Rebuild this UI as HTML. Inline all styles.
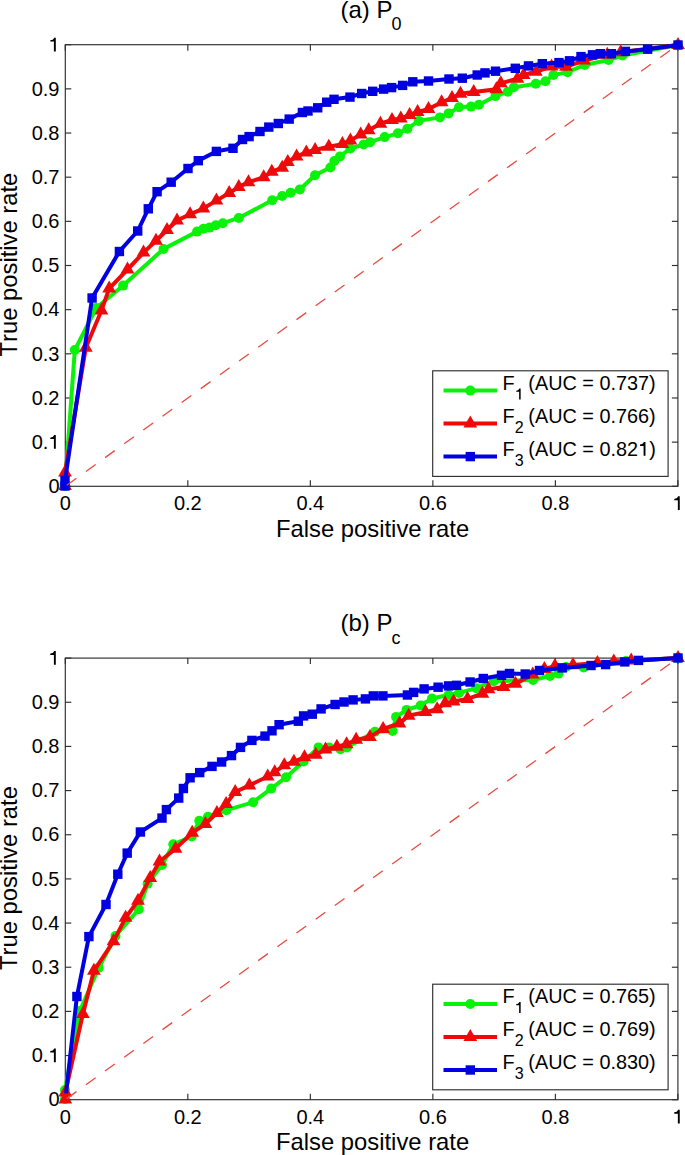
<!DOCTYPE html>
<html><head><meta charset="utf-8"><style>
html,body{margin:0;padding:0;background:#fff;}
body{width:685px;height:1155px;overflow:hidden;}
svg{display:block;font-family:"Liberation Sans",sans-serif;}
text{white-space:pre;font-kerning:none;}
.tk{font-size:20px;fill:#000;}
.lb{font-size:23.8px;fill:#000;}
.tt{font-size:24px;fill:#000;}
.sub{font-size:18px;}
.lg{font-size:19.85px;fill:#000;}
.lsub{font-size:16px;fill:#000;}
</style></head><body>
<svg width="685" height="1155" viewBox="0 0 685 1155">
<rect width="685" height="1155" fill="#fff"/>
<rect x="65.3" y="44.7" width="612.6" height="441.6" fill="none" stroke="#2e2e2e" stroke-width="1.15"/>
<line x1="65.3" y1="486.30" x2="71.3" y2="486.30" stroke="#2e2e2e" stroke-width="1.15"/>
<line x1="677.9" y1="486.30" x2="671.9" y2="486.30" stroke="#2e2e2e" stroke-width="1.15"/>
<text x="48.38" y="493.00" class="tk">0</text>
<line x1="65.3" y1="442.14" x2="71.3" y2="442.14" stroke="#2e2e2e" stroke-width="1.15"/>
<line x1="677.9" y1="442.14" x2="671.9" y2="442.14" stroke="#2e2e2e" stroke-width="1.15"/>
<text x="31.70" y="448.84" class="tk">0.</text><path transform="translate(48.38,448.84) scale(20,-20)" d="M0.371,0L0.276,0L0.276,0.49L0.095,0.49L0.095,0.56C0.19,0.563 0.262,0.605 0.29,0.688L0.371,0.688Z"/>
<line x1="65.3" y1="397.98" x2="71.3" y2="397.98" stroke="#2e2e2e" stroke-width="1.15"/>
<line x1="677.9" y1="397.98" x2="671.9" y2="397.98" stroke="#2e2e2e" stroke-width="1.15"/>
<text x="31.70" y="404.68" class="tk">0.2</text>
<line x1="65.3" y1="353.82" x2="71.3" y2="353.82" stroke="#2e2e2e" stroke-width="1.15"/>
<line x1="677.9" y1="353.82" x2="671.9" y2="353.82" stroke="#2e2e2e" stroke-width="1.15"/>
<text x="31.70" y="360.52" class="tk">0.3</text>
<line x1="65.3" y1="309.66" x2="71.3" y2="309.66" stroke="#2e2e2e" stroke-width="1.15"/>
<line x1="677.9" y1="309.66" x2="671.9" y2="309.66" stroke="#2e2e2e" stroke-width="1.15"/>
<text x="31.70" y="316.36" class="tk">0.4</text>
<line x1="65.3" y1="265.50" x2="71.3" y2="265.50" stroke="#2e2e2e" stroke-width="1.15"/>
<line x1="677.9" y1="265.50" x2="671.9" y2="265.50" stroke="#2e2e2e" stroke-width="1.15"/>
<text x="31.70" y="272.20" class="tk">0.5</text>
<line x1="65.3" y1="221.34" x2="71.3" y2="221.34" stroke="#2e2e2e" stroke-width="1.15"/>
<line x1="677.9" y1="221.34" x2="671.9" y2="221.34" stroke="#2e2e2e" stroke-width="1.15"/>
<text x="31.70" y="228.04" class="tk">0.6</text>
<line x1="65.3" y1="177.18" x2="71.3" y2="177.18" stroke="#2e2e2e" stroke-width="1.15"/>
<line x1="677.9" y1="177.18" x2="671.9" y2="177.18" stroke="#2e2e2e" stroke-width="1.15"/>
<text x="31.70" y="183.88" class="tk">0.7</text>
<line x1="65.3" y1="133.02" x2="71.3" y2="133.02" stroke="#2e2e2e" stroke-width="1.15"/>
<line x1="677.9" y1="133.02" x2="671.9" y2="133.02" stroke="#2e2e2e" stroke-width="1.15"/>
<text x="31.70" y="139.72" class="tk">0.8</text>
<line x1="65.3" y1="88.86" x2="71.3" y2="88.86" stroke="#2e2e2e" stroke-width="1.15"/>
<line x1="677.9" y1="88.86" x2="671.9" y2="88.86" stroke="#2e2e2e" stroke-width="1.15"/>
<text x="31.70" y="95.56" class="tk">0.9</text>
<line x1="65.3" y1="44.70" x2="71.3" y2="44.70" stroke="#2e2e2e" stroke-width="1.15"/>
<line x1="677.9" y1="44.70" x2="671.9" y2="44.70" stroke="#2e2e2e" stroke-width="1.15"/>
<path transform="translate(48.38,51.40) scale(20,-20)" d="M0.371,0L0.276,0L0.276,0.49L0.095,0.49L0.095,0.56C0.19,0.563 0.262,0.605 0.29,0.688L0.371,0.688Z"/>
<line x1="65.30" y1="486.3" x2="65.30" y2="480.3" stroke="#2e2e2e" stroke-width="1.15"/>
<line x1="65.30" y1="44.7" x2="65.30" y2="50.7" stroke="#2e2e2e" stroke-width="1.15"/>
<text x="59.74" y="510.10" class="tk">0</text>
<line x1="187.82" y1="486.3" x2="187.82" y2="480.3" stroke="#2e2e2e" stroke-width="1.15"/>
<line x1="187.82" y1="44.7" x2="187.82" y2="50.7" stroke="#2e2e2e" stroke-width="1.15"/>
<text x="173.92" y="510.10" class="tk">0.2</text>
<line x1="310.34" y1="486.3" x2="310.34" y2="480.3" stroke="#2e2e2e" stroke-width="1.15"/>
<line x1="310.34" y1="44.7" x2="310.34" y2="50.7" stroke="#2e2e2e" stroke-width="1.15"/>
<text x="296.44" y="510.10" class="tk">0.4</text>
<line x1="432.86" y1="486.3" x2="432.86" y2="480.3" stroke="#2e2e2e" stroke-width="1.15"/>
<line x1="432.86" y1="44.7" x2="432.86" y2="50.7" stroke="#2e2e2e" stroke-width="1.15"/>
<text x="418.96" y="510.10" class="tk">0.6</text>
<line x1="555.38" y1="486.3" x2="555.38" y2="480.3" stroke="#2e2e2e" stroke-width="1.15"/>
<line x1="555.38" y1="44.7" x2="555.38" y2="50.7" stroke="#2e2e2e" stroke-width="1.15"/>
<text x="541.48" y="510.10" class="tk">0.8</text>
<line x1="677.90" y1="486.3" x2="677.90" y2="480.3" stroke="#2e2e2e" stroke-width="1.15"/>
<line x1="677.90" y1="44.7" x2="677.90" y2="50.7" stroke="#2e2e2e" stroke-width="1.15"/>
<path transform="translate(672.34,510.10) scale(20,-20)" d="M0.371,0L0.276,0L0.276,0.49L0.095,0.49L0.095,0.56C0.19,0.563 0.262,0.605 0.29,0.688L0.371,0.688Z"/>
<polyline points="65.0,486.0 74.8,350.0 96.2,308.0 123.1,285.6 163.5,249.0 197.1,231.6 203.5,228.7 209.6,227.6 215.8,225.2 222.8,223.2 238.8,218.0 272.2,200.3 282.2,196.0 290.6,192.8 299.9,189.4 315.0,175.2 330.4,167.5 334.4,161.0 340.0,156.4 350.4,148.5 363.6,144.5 370.1,142.2 384.7,137.1 397.9,133.3 407.4,128.8 418.7,120.9 439.9,117.4 448.6,113.4 459.0,107.3 471.0,106.6 478.9,104.8 495.5,96.1 507.8,91.7 513.9,87.3 535.8,83.8 545.5,81.2 553.4,75.0 567.5,72.2 584.8,65.0 608.5,60.0 622.5,55.5 678.0,45.0" fill="none" stroke="#0af20a" stroke-width="4" stroke-linejoin="miter" stroke-miterlimit="2"/><circle cx="65.0" cy="486.0" r="5" fill="#0af20a"/><circle cx="74.8" cy="350.0" r="5" fill="#0af20a"/><circle cx="96.2" cy="308.0" r="5" fill="#0af20a"/><circle cx="123.1" cy="285.6" r="5" fill="#0af20a"/><circle cx="163.5" cy="249.0" r="5" fill="#0af20a"/><circle cx="197.1" cy="231.6" r="5" fill="#0af20a"/><circle cx="203.5" cy="228.7" r="5" fill="#0af20a"/><circle cx="209.6" cy="227.6" r="5" fill="#0af20a"/><circle cx="215.8" cy="225.2" r="5" fill="#0af20a"/><circle cx="222.8" cy="223.2" r="5" fill="#0af20a"/><circle cx="238.8" cy="218.0" r="5" fill="#0af20a"/><circle cx="272.2" cy="200.3" r="5" fill="#0af20a"/><circle cx="282.2" cy="196.0" r="5" fill="#0af20a"/><circle cx="290.6" cy="192.8" r="5" fill="#0af20a"/><circle cx="299.9" cy="189.4" r="5" fill="#0af20a"/><circle cx="315.0" cy="175.2" r="5" fill="#0af20a"/><circle cx="330.4" cy="167.5" r="5" fill="#0af20a"/><circle cx="334.4" cy="161.0" r="5" fill="#0af20a"/><circle cx="340.0" cy="156.4" r="5" fill="#0af20a"/><circle cx="350.4" cy="148.5" r="5" fill="#0af20a"/><circle cx="363.6" cy="144.5" r="5" fill="#0af20a"/><circle cx="370.1" cy="142.2" r="5" fill="#0af20a"/><circle cx="384.7" cy="137.1" r="5" fill="#0af20a"/><circle cx="397.9" cy="133.3" r="5" fill="#0af20a"/><circle cx="407.4" cy="128.8" r="5" fill="#0af20a"/><circle cx="418.7" cy="120.9" r="5" fill="#0af20a"/><circle cx="439.9" cy="117.4" r="5" fill="#0af20a"/><circle cx="448.6" cy="113.4" r="5" fill="#0af20a"/><circle cx="459.0" cy="107.3" r="5" fill="#0af20a"/><circle cx="471.0" cy="106.6" r="5" fill="#0af20a"/><circle cx="478.9" cy="104.8" r="5" fill="#0af20a"/><circle cx="495.5" cy="96.1" r="5" fill="#0af20a"/><circle cx="507.8" cy="91.7" r="5" fill="#0af20a"/><circle cx="513.9" cy="87.3" r="5" fill="#0af20a"/><circle cx="535.8" cy="83.8" r="5" fill="#0af20a"/><circle cx="545.5" cy="81.2" r="5" fill="#0af20a"/><circle cx="553.4" cy="75.0" r="5" fill="#0af20a"/><circle cx="567.5" cy="72.2" r="5" fill="#0af20a"/><circle cx="584.8" cy="65.0" r="5" fill="#0af20a"/><circle cx="608.5" cy="60.0" r="5" fill="#0af20a"/><circle cx="622.5" cy="55.5" r="5" fill="#0af20a"/><circle cx="678.0" cy="45.0" r="5" fill="#0af20a"/>
<polyline points="65.0,486.0 65.0,472.5 85.8,347.8 101.5,310.4 109.2,288.5 127.5,269.5 143.5,252.6 156.0,240.7 167.0,230.0 177.0,220.5 190.1,214.3 203.3,208.5 216.4,200.6 229.2,193.1 238.8,187.0 248.5,182.2 263.7,177.3 271.8,171.7 282.2,167.7 287.8,162.1 296.6,156.5 306.3,152.5 315.1,150.0 328.8,146.8 342.4,144.1 350.4,140.4 360.7,134.6 368.7,130.2 380.4,123.7 392.0,120.0 400.8,118.5 409.6,114.9 417.6,112.0 428.5,109.1 441.6,102.3 452.0,98.0 460.5,93.7 473.7,91.9 496.4,89.3 500.8,83.2 517.4,78.8 523.6,74.9 535.8,71.8 551.6,66.6 566.0,66.8 584.0,60.5 607.3,54.7 620.7,52.3 678.0,45.0" fill="none" stroke="#ee0a0a" stroke-width="4" stroke-linejoin="miter" stroke-miterlimit="2"/><path d="M65.0,478.0L71.9,490.0L58.1,490.0Z" fill="#ee0a0a"/><path d="M65.0,464.5L71.9,476.5L58.1,476.5Z" fill="#ee0a0a"/><path d="M85.8,339.8L92.7,351.8L78.9,351.8Z" fill="#ee0a0a"/><path d="M101.5,302.4L108.4,314.4L94.6,314.4Z" fill="#ee0a0a"/><path d="M109.2,280.5L116.1,292.5L102.3,292.5Z" fill="#ee0a0a"/><path d="M127.5,261.5L134.4,273.5L120.6,273.5Z" fill="#ee0a0a"/><path d="M143.5,244.6L150.4,256.6L136.6,256.6Z" fill="#ee0a0a"/><path d="M156.0,232.7L162.9,244.7L149.1,244.7Z" fill="#ee0a0a"/><path d="M167.0,222.0L173.9,234.0L160.1,234.0Z" fill="#ee0a0a"/><path d="M177.0,212.5L183.9,224.5L170.1,224.5Z" fill="#ee0a0a"/><path d="M190.1,206.3L197.0,218.3L183.2,218.3Z" fill="#ee0a0a"/><path d="M203.3,200.5L210.2,212.5L196.4,212.5Z" fill="#ee0a0a"/><path d="M216.4,192.6L223.3,204.6L209.5,204.6Z" fill="#ee0a0a"/><path d="M229.2,185.1L236.1,197.1L222.3,197.1Z" fill="#ee0a0a"/><path d="M238.8,179.0L245.7,191.0L231.9,191.0Z" fill="#ee0a0a"/><path d="M248.5,174.2L255.4,186.2L241.6,186.2Z" fill="#ee0a0a"/><path d="M263.7,169.3L270.6,181.3L256.8,181.3Z" fill="#ee0a0a"/><path d="M271.8,163.7L278.7,175.7L264.9,175.7Z" fill="#ee0a0a"/><path d="M282.2,159.7L289.1,171.7L275.3,171.7Z" fill="#ee0a0a"/><path d="M287.8,154.1L294.7,166.1L280.9,166.1Z" fill="#ee0a0a"/><path d="M296.6,148.5L303.5,160.5L289.7,160.5Z" fill="#ee0a0a"/><path d="M306.3,144.5L313.2,156.5L299.4,156.5Z" fill="#ee0a0a"/><path d="M315.1,142.0L322.0,154.0L308.2,154.0Z" fill="#ee0a0a"/><path d="M328.8,138.8L335.7,150.8L321.9,150.8Z" fill="#ee0a0a"/><path d="M342.4,136.1L349.3,148.1L335.5,148.1Z" fill="#ee0a0a"/><path d="M350.4,132.4L357.3,144.4L343.5,144.4Z" fill="#ee0a0a"/><path d="M360.7,126.6L367.6,138.6L353.8,138.6Z" fill="#ee0a0a"/><path d="M368.7,122.2L375.6,134.2L361.8,134.2Z" fill="#ee0a0a"/><path d="M380.4,115.7L387.3,127.7L373.5,127.7Z" fill="#ee0a0a"/><path d="M392.0,112.0L398.9,124.0L385.1,124.0Z" fill="#ee0a0a"/><path d="M400.8,110.5L407.7,122.5L393.9,122.5Z" fill="#ee0a0a"/><path d="M409.6,106.9L416.5,118.9L402.7,118.9Z" fill="#ee0a0a"/><path d="M417.6,104.0L424.5,116.0L410.7,116.0Z" fill="#ee0a0a"/><path d="M428.5,101.1L435.4,113.1L421.6,113.1Z" fill="#ee0a0a"/><path d="M441.6,94.3L448.5,106.3L434.7,106.3Z" fill="#ee0a0a"/><path d="M452.0,90.0L458.9,102.0L445.1,102.0Z" fill="#ee0a0a"/><path d="M460.5,85.7L467.4,97.7L453.6,97.7Z" fill="#ee0a0a"/><path d="M473.7,83.9L480.6,95.9L466.8,95.9Z" fill="#ee0a0a"/><path d="M496.4,81.3L503.3,93.3L489.5,93.3Z" fill="#ee0a0a"/><path d="M500.8,75.2L507.7,87.2L493.9,87.2Z" fill="#ee0a0a"/><path d="M517.4,70.8L524.3,82.8L510.5,82.8Z" fill="#ee0a0a"/><path d="M523.6,66.9L530.5,78.9L516.7,78.9Z" fill="#ee0a0a"/><path d="M535.8,63.8L542.7,75.8L528.9,75.8Z" fill="#ee0a0a"/><path d="M551.6,58.6L558.5,70.6L544.7,70.6Z" fill="#ee0a0a"/><path d="M566.0,58.8L572.9,70.8L559.1,70.8Z" fill="#ee0a0a"/><path d="M584.0,52.5L590.9,64.5L577.1,64.5Z" fill="#ee0a0a"/><path d="M607.3,46.7L614.2,58.7L600.4,58.7Z" fill="#ee0a0a"/><path d="M620.7,44.3L627.6,56.3L613.8,56.3Z" fill="#ee0a0a"/><path d="M678.0,37.0L684.9,49.0L671.1,49.0Z" fill="#ee0a0a"/>
<polyline points="65.0,486.0 65.0,480.5 92.1,298.0 119.4,251.5 137.7,231.0 148.3,208.8 157.1,191.7 171.2,182.2 188.0,168.5 198.3,160.7 216.4,151.4 233.0,148.3 242.5,139.5 249.1,136.6 260.0,131.5 268.8,127.1 278.3,123.5 289.2,119.1 302.4,112.5 308.0,111.0 317.7,107.8 326.7,102.2 334.0,99.3 350.0,97.1 361.7,93.5 372.7,91.3 383.6,89.1 391.6,87.6 402.6,85.4 412.8,81.8 428.5,81.0 449.0,79.0 462.3,78.2 477.2,75.0 485.0,72.9 495.5,71.2 515.3,68.3 528.5,65.9 542.3,63.7 559.0,62.6 569.5,60.8 581.0,56.6 592.5,54.8 600.3,53.7 611.4,53.7 625.4,51.4 647.6,49.2 678.0,45.0" fill="none" stroke="#0000e0" stroke-width="4" stroke-linejoin="miter" stroke-miterlimit="2"/><rect x="60.3" y="481.3" width="9.4" height="9.4" fill="#0000e0"/><rect x="60.3" y="475.8" width="9.4" height="9.4" fill="#0000e0"/><rect x="87.4" y="293.3" width="9.4" height="9.4" fill="#0000e0"/><rect x="114.7" y="246.8" width="9.4" height="9.4" fill="#0000e0"/><rect x="133.0" y="226.3" width="9.4" height="9.4" fill="#0000e0"/><rect x="143.6" y="204.1" width="9.4" height="9.4" fill="#0000e0"/><rect x="152.4" y="187.0" width="9.4" height="9.4" fill="#0000e0"/><rect x="166.5" y="177.5" width="9.4" height="9.4" fill="#0000e0"/><rect x="183.3" y="163.8" width="9.4" height="9.4" fill="#0000e0"/><rect x="193.6" y="156.0" width="9.4" height="9.4" fill="#0000e0"/><rect x="211.7" y="146.7" width="9.4" height="9.4" fill="#0000e0"/><rect x="228.3" y="143.6" width="9.4" height="9.4" fill="#0000e0"/><rect x="237.8" y="134.8" width="9.4" height="9.4" fill="#0000e0"/><rect x="244.4" y="131.9" width="9.4" height="9.4" fill="#0000e0"/><rect x="255.3" y="126.8" width="9.4" height="9.4" fill="#0000e0"/><rect x="264.1" y="122.4" width="9.4" height="9.4" fill="#0000e0"/><rect x="273.6" y="118.8" width="9.4" height="9.4" fill="#0000e0"/><rect x="284.5" y="114.4" width="9.4" height="9.4" fill="#0000e0"/><rect x="297.7" y="107.8" width="9.4" height="9.4" fill="#0000e0"/><rect x="303.3" y="106.3" width="9.4" height="9.4" fill="#0000e0"/><rect x="313.0" y="103.1" width="9.4" height="9.4" fill="#0000e0"/><rect x="322.0" y="97.5" width="9.4" height="9.4" fill="#0000e0"/><rect x="329.3" y="94.6" width="9.4" height="9.4" fill="#0000e0"/><rect x="345.3" y="92.4" width="9.4" height="9.4" fill="#0000e0"/><rect x="357.0" y="88.8" width="9.4" height="9.4" fill="#0000e0"/><rect x="368.0" y="86.6" width="9.4" height="9.4" fill="#0000e0"/><rect x="378.9" y="84.4" width="9.4" height="9.4" fill="#0000e0"/><rect x="386.9" y="82.9" width="9.4" height="9.4" fill="#0000e0"/><rect x="397.9" y="80.7" width="9.4" height="9.4" fill="#0000e0"/><rect x="408.1" y="77.1" width="9.4" height="9.4" fill="#0000e0"/><rect x="423.8" y="76.3" width="9.4" height="9.4" fill="#0000e0"/><rect x="444.3" y="74.3" width="9.4" height="9.4" fill="#0000e0"/><rect x="457.6" y="73.5" width="9.4" height="9.4" fill="#0000e0"/><rect x="472.5" y="70.3" width="9.4" height="9.4" fill="#0000e0"/><rect x="480.3" y="68.2" width="9.4" height="9.4" fill="#0000e0"/><rect x="490.8" y="66.5" width="9.4" height="9.4" fill="#0000e0"/><rect x="510.6" y="63.6" width="9.4" height="9.4" fill="#0000e0"/><rect x="523.8" y="61.2" width="9.4" height="9.4" fill="#0000e0"/><rect x="537.6" y="59.0" width="9.4" height="9.4" fill="#0000e0"/><rect x="554.3" y="57.9" width="9.4" height="9.4" fill="#0000e0"/><rect x="564.8" y="56.1" width="9.4" height="9.4" fill="#0000e0"/><rect x="576.3" y="51.9" width="9.4" height="9.4" fill="#0000e0"/><rect x="587.8" y="50.1" width="9.4" height="9.4" fill="#0000e0"/><rect x="595.6" y="49.0" width="9.4" height="9.4" fill="#0000e0"/><rect x="606.7" y="49.0" width="9.4" height="9.4" fill="#0000e0"/><rect x="620.7" y="46.7" width="9.4" height="9.4" fill="#0000e0"/><rect x="642.9" y="44.5" width="9.4" height="9.4" fill="#0000e0"/><rect x="673.3" y="40.3" width="9.4" height="9.4" fill="#0000e0"/>
<line x1="65.3" y1="486.3" x2="677.9" y2="44.7" stroke="#e84a40" stroke-width="1.3" stroke-dasharray="12 11.6" stroke-dashoffset="-1.8"/>
<text x="372.6" y="536.7" text-anchor="middle" class="lb">False positive rate</text>
<text transform="translate(17.3,264.6) rotate(-90)" text-anchor="middle" class="lb">True positive rate</text>
<text x="340.5" y="17.5" class="tt">(a) P<tspan class="sub" dx="-1" dy="12.4">0</tspan></text>
<rect x="432.7" y="370.8" width="235.4" height="105.6" fill="#fff" stroke="#2e2e2e" stroke-width="1.15"/>
<line x1="443.5" y1="390.6" x2="497" y2="390.6" stroke="#0af20a" stroke-width="4"/>
<circle cx="470.3" cy="390.6" r="5" fill="#0af20a"/>
<text x="502.50" y="389.70" class="lg">F</text>
<path transform="translate(514.72,399.60) scale(16,-16)" d="M0.371,0L0.276,0L0.276,0.49L0.095,0.49L0.095,0.56C0.19,0.563 0.262,0.605 0.29,0.688L0.371,0.688Z"/>
<text x="522.82" y="389.70" class="lg"> (AUC = 0.737)</text>
<line x1="443.5" y1="423.6" x2="497" y2="423.6" stroke="#ee0a0a" stroke-width="4"/>
<path d="M470.3,415.6L477.2,427.6L463.4,427.6Z" fill="#ee0a0a"/>
<text x="502.50" y="422.70" class="lg">F</text>
<text x="514.72" y="432.60" class="lsub">2</text>
<text x="522.82" y="422.70" class="lg"> (AUC = 0.766)</text>
<line x1="443.5" y1="456.6" x2="497" y2="456.6" stroke="#0000e0" stroke-width="4"/>
<rect x="465.6" y="451.9" width="9.4" height="9.4" fill="#0000e0"/>
<text x="502.50" y="455.70" class="lg">F</text>
<text x="514.72" y="465.60" class="lsub">3</text>
<text x="522.82" y="455.70" class="lg"> (AUC = 0.82</text><path transform="translate(638.11,455.70) scale(19.85,-19.85)" d="M0.371,0L0.276,0L0.276,0.49L0.095,0.49L0.095,0.56C0.19,0.563 0.262,0.605 0.29,0.688L0.371,0.688Z"/><text x="649.15" y="455.70" class="lg">)</text>
<rect x="65.3" y="658.1" width="612.6" height="441.6" fill="none" stroke="#2e2e2e" stroke-width="1.15"/>
<line x1="65.3" y1="1099.70" x2="71.3" y2="1099.70" stroke="#2e2e2e" stroke-width="1.15"/>
<line x1="677.9" y1="1099.70" x2="671.9" y2="1099.70" stroke="#2e2e2e" stroke-width="1.15"/>
<text x="48.38" y="1106.40" class="tk">0</text>
<line x1="65.3" y1="1055.54" x2="71.3" y2="1055.54" stroke="#2e2e2e" stroke-width="1.15"/>
<line x1="677.9" y1="1055.54" x2="671.9" y2="1055.54" stroke="#2e2e2e" stroke-width="1.15"/>
<text x="31.70" y="1062.24" class="tk">0.</text><path transform="translate(48.38,1062.24) scale(20,-20)" d="M0.371,0L0.276,0L0.276,0.49L0.095,0.49L0.095,0.56C0.19,0.563 0.262,0.605 0.29,0.688L0.371,0.688Z"/>
<line x1="65.3" y1="1011.38" x2="71.3" y2="1011.38" stroke="#2e2e2e" stroke-width="1.15"/>
<line x1="677.9" y1="1011.38" x2="671.9" y2="1011.38" stroke="#2e2e2e" stroke-width="1.15"/>
<text x="31.70" y="1018.08" class="tk">0.2</text>
<line x1="65.3" y1="967.22" x2="71.3" y2="967.22" stroke="#2e2e2e" stroke-width="1.15"/>
<line x1="677.9" y1="967.22" x2="671.9" y2="967.22" stroke="#2e2e2e" stroke-width="1.15"/>
<text x="31.70" y="973.92" class="tk">0.3</text>
<line x1="65.3" y1="923.06" x2="71.3" y2="923.06" stroke="#2e2e2e" stroke-width="1.15"/>
<line x1="677.9" y1="923.06" x2="671.9" y2="923.06" stroke="#2e2e2e" stroke-width="1.15"/>
<text x="31.70" y="929.76" class="tk">0.4</text>
<line x1="65.3" y1="878.90" x2="71.3" y2="878.90" stroke="#2e2e2e" stroke-width="1.15"/>
<line x1="677.9" y1="878.90" x2="671.9" y2="878.90" stroke="#2e2e2e" stroke-width="1.15"/>
<text x="31.70" y="885.60" class="tk">0.5</text>
<line x1="65.3" y1="834.74" x2="71.3" y2="834.74" stroke="#2e2e2e" stroke-width="1.15"/>
<line x1="677.9" y1="834.74" x2="671.9" y2="834.74" stroke="#2e2e2e" stroke-width="1.15"/>
<text x="31.70" y="841.44" class="tk">0.6</text>
<line x1="65.3" y1="790.58" x2="71.3" y2="790.58" stroke="#2e2e2e" stroke-width="1.15"/>
<line x1="677.9" y1="790.58" x2="671.9" y2="790.58" stroke="#2e2e2e" stroke-width="1.15"/>
<text x="31.70" y="797.28" class="tk">0.7</text>
<line x1="65.3" y1="746.42" x2="71.3" y2="746.42" stroke="#2e2e2e" stroke-width="1.15"/>
<line x1="677.9" y1="746.42" x2="671.9" y2="746.42" stroke="#2e2e2e" stroke-width="1.15"/>
<text x="31.70" y="753.12" class="tk">0.8</text>
<line x1="65.3" y1="702.26" x2="71.3" y2="702.26" stroke="#2e2e2e" stroke-width="1.15"/>
<line x1="677.9" y1="702.26" x2="671.9" y2="702.26" stroke="#2e2e2e" stroke-width="1.15"/>
<text x="31.70" y="708.96" class="tk">0.9</text>
<line x1="65.3" y1="658.10" x2="71.3" y2="658.10" stroke="#2e2e2e" stroke-width="1.15"/>
<line x1="677.9" y1="658.10" x2="671.9" y2="658.10" stroke="#2e2e2e" stroke-width="1.15"/>
<path transform="translate(48.38,664.80) scale(20,-20)" d="M0.371,0L0.276,0L0.276,0.49L0.095,0.49L0.095,0.56C0.19,0.563 0.262,0.605 0.29,0.688L0.371,0.688Z"/>
<line x1="65.30" y1="1099.7" x2="65.30" y2="1093.7" stroke="#2e2e2e" stroke-width="1.15"/>
<line x1="65.30" y1="658.1" x2="65.30" y2="664.1" stroke="#2e2e2e" stroke-width="1.15"/>
<text x="59.74" y="1123.50" class="tk">0</text>
<line x1="187.82" y1="1099.7" x2="187.82" y2="1093.7" stroke="#2e2e2e" stroke-width="1.15"/>
<line x1="187.82" y1="658.1" x2="187.82" y2="664.1" stroke="#2e2e2e" stroke-width="1.15"/>
<text x="173.92" y="1123.50" class="tk">0.2</text>
<line x1="310.34" y1="1099.7" x2="310.34" y2="1093.7" stroke="#2e2e2e" stroke-width="1.15"/>
<line x1="310.34" y1="658.1" x2="310.34" y2="664.1" stroke="#2e2e2e" stroke-width="1.15"/>
<text x="296.44" y="1123.50" class="tk">0.4</text>
<line x1="432.86" y1="1099.7" x2="432.86" y2="1093.7" stroke="#2e2e2e" stroke-width="1.15"/>
<line x1="432.86" y1="658.1" x2="432.86" y2="664.1" stroke="#2e2e2e" stroke-width="1.15"/>
<text x="418.96" y="1123.50" class="tk">0.6</text>
<line x1="555.38" y1="1099.7" x2="555.38" y2="1093.7" stroke="#2e2e2e" stroke-width="1.15"/>
<line x1="555.38" y1="658.1" x2="555.38" y2="664.1" stroke="#2e2e2e" stroke-width="1.15"/>
<text x="541.48" y="1123.50" class="tk">0.8</text>
<line x1="677.90" y1="1099.7" x2="677.90" y2="1093.7" stroke="#2e2e2e" stroke-width="1.15"/>
<line x1="677.90" y1="658.1" x2="677.90" y2="664.1" stroke="#2e2e2e" stroke-width="1.15"/>
<path transform="translate(672.34,1123.50) scale(20,-20)" d="M0.371,0L0.276,0L0.276,0.49L0.095,0.49L0.095,0.56C0.19,0.563 0.262,0.605 0.29,0.688L0.371,0.688Z"/>
<polyline points="65.0,1099.0 65.0,1090.0 79.7,1011.0 98.8,967.8 115.5,936.0 138.8,909.2 147.6,883.8 162.0,865.0 173.3,844.3 191.8,836.5 199.3,820.8 208.0,816.8 226.4,810.2 253.1,802.3 271.2,788.6 286.1,777.2 303.6,761.5 318.5,747.4 329.0,747.4 340.4,749.2 347.0,747.5 375.0,731.8 392.6,731.0 396.1,716.9 406.6,709.9 420.6,705.5 432.0,698.5 448.6,695.0 459.0,693.0 476.3,688.2 493.8,681.2 533.0,680.0 550.0,676.0 558.5,673.6 566.0,667.0 583.7,667.4 626.0,661.0 678.0,658.0" fill="none" stroke="#0af20a" stroke-width="4" stroke-linejoin="miter" stroke-miterlimit="2"/><circle cx="65.0" cy="1099.0" r="5" fill="#0af20a"/><circle cx="65.0" cy="1090.0" r="5" fill="#0af20a"/><circle cx="79.7" cy="1011.0" r="5" fill="#0af20a"/><circle cx="98.8" cy="967.8" r="5" fill="#0af20a"/><circle cx="115.5" cy="936.0" r="5" fill="#0af20a"/><circle cx="138.8" cy="909.2" r="5" fill="#0af20a"/><circle cx="147.6" cy="883.8" r="5" fill="#0af20a"/><circle cx="162.0" cy="865.0" r="5" fill="#0af20a"/><circle cx="173.3" cy="844.3" r="5" fill="#0af20a"/><circle cx="191.8" cy="836.5" r="5" fill="#0af20a"/><circle cx="199.3" cy="820.8" r="5" fill="#0af20a"/><circle cx="208.0" cy="816.8" r="5" fill="#0af20a"/><circle cx="226.4" cy="810.2" r="5" fill="#0af20a"/><circle cx="253.1" cy="802.3" r="5" fill="#0af20a"/><circle cx="271.2" cy="788.6" r="5" fill="#0af20a"/><circle cx="286.1" cy="777.2" r="5" fill="#0af20a"/><circle cx="303.6" cy="761.5" r="5" fill="#0af20a"/><circle cx="318.5" cy="747.4" r="5" fill="#0af20a"/><circle cx="329.0" cy="747.4" r="5" fill="#0af20a"/><circle cx="340.4" cy="749.2" r="5" fill="#0af20a"/><circle cx="347.0" cy="747.5" r="5" fill="#0af20a"/><circle cx="375.0" cy="731.8" r="5" fill="#0af20a"/><circle cx="392.6" cy="731.0" r="5" fill="#0af20a"/><circle cx="396.1" cy="716.9" r="5" fill="#0af20a"/><circle cx="406.6" cy="709.9" r="5" fill="#0af20a"/><circle cx="420.6" cy="705.5" r="5" fill="#0af20a"/><circle cx="432.0" cy="698.5" r="5" fill="#0af20a"/><circle cx="448.6" cy="695.0" r="5" fill="#0af20a"/><circle cx="459.0" cy="693.0" r="5" fill="#0af20a"/><circle cx="476.3" cy="688.2" r="5" fill="#0af20a"/><circle cx="493.8" cy="681.2" r="5" fill="#0af20a"/><circle cx="533.0" cy="680.0" r="5" fill="#0af20a"/><circle cx="550.0" cy="676.0" r="5" fill="#0af20a"/><circle cx="558.5" cy="673.6" r="5" fill="#0af20a"/><circle cx="566.0" cy="667.0" r="5" fill="#0af20a"/><circle cx="583.7" cy="667.4" r="5" fill="#0af20a"/><circle cx="626.0" cy="661.0" r="5" fill="#0af20a"/><circle cx="678.0" cy="658.0" r="5" fill="#0af20a"/>
<polyline points="65.3,1099.6 65.3,1092.6 82.9,1013.9 93.9,970.8 113.5,941.3 125.6,917.7 138.0,900.7 150.2,877.9 159.5,861.5 175.5,848.8 192.2,832.8 205.4,824.0 216.9,813.0 226.1,804.0 235.2,792.0 249.3,785.4 267.7,776.6 274.7,772.2 284.3,765.2 293.9,761.7 304.5,757.3 315.8,754.7 325.5,749.4 336.9,746.8 346.6,744.2 356.1,739.8 369.9,736.9 383.1,728.9 399.5,723.5 408.6,715.7 425.4,712.1 437.1,709.2 445.1,703.2 453.6,701.5 467.5,698.9 482.4,693.7 488.5,689.3 503.5,687.0 515.5,683.8 532.7,674.4 544.4,669.1 554.9,666.0 573.0,665.0 597.4,663.0 613.8,661.5 631.2,660.5 678.0,658.0" fill="none" stroke="#ee0a0a" stroke-width="4" stroke-linejoin="miter" stroke-miterlimit="2"/><path d="M65.3,1091.6L72.2,1103.6L58.4,1103.6Z" fill="#ee0a0a"/><path d="M65.3,1084.6L72.2,1096.6L58.4,1096.6Z" fill="#ee0a0a"/><path d="M82.9,1005.9L89.8,1017.9L76.0,1017.9Z" fill="#ee0a0a"/><path d="M93.9,962.8L100.8,974.8L87.0,974.8Z" fill="#ee0a0a"/><path d="M113.5,933.3L120.4,945.3L106.6,945.3Z" fill="#ee0a0a"/><path d="M125.6,909.7L132.5,921.7L118.7,921.7Z" fill="#ee0a0a"/><path d="M138.0,892.7L144.9,904.7L131.1,904.7Z" fill="#ee0a0a"/><path d="M150.2,869.9L157.1,881.9L143.3,881.9Z" fill="#ee0a0a"/><path d="M159.5,853.5L166.4,865.5L152.6,865.5Z" fill="#ee0a0a"/><path d="M175.5,840.8L182.4,852.8L168.6,852.8Z" fill="#ee0a0a"/><path d="M192.2,824.8L199.1,836.8L185.3,836.8Z" fill="#ee0a0a"/><path d="M205.4,816.0L212.3,828.0L198.5,828.0Z" fill="#ee0a0a"/><path d="M216.9,805.0L223.8,817.0L210.0,817.0Z" fill="#ee0a0a"/><path d="M226.1,796.0L233.0,808.0L219.2,808.0Z" fill="#ee0a0a"/><path d="M235.2,784.0L242.1,796.0L228.3,796.0Z" fill="#ee0a0a"/><path d="M249.3,777.4L256.2,789.4L242.4,789.4Z" fill="#ee0a0a"/><path d="M267.7,768.6L274.6,780.6L260.8,780.6Z" fill="#ee0a0a"/><path d="M274.7,764.2L281.6,776.2L267.8,776.2Z" fill="#ee0a0a"/><path d="M284.3,757.2L291.2,769.2L277.4,769.2Z" fill="#ee0a0a"/><path d="M293.9,753.7L300.8,765.7L287.0,765.7Z" fill="#ee0a0a"/><path d="M304.5,749.3L311.4,761.3L297.6,761.3Z" fill="#ee0a0a"/><path d="M315.8,746.7L322.7,758.7L308.9,758.7Z" fill="#ee0a0a"/><path d="M325.5,741.4L332.4,753.4L318.6,753.4Z" fill="#ee0a0a"/><path d="M336.9,738.8L343.8,750.8L330.0,750.8Z" fill="#ee0a0a"/><path d="M346.6,736.2L353.5,748.2L339.7,748.2Z" fill="#ee0a0a"/><path d="M356.1,731.8L363.0,743.8L349.2,743.8Z" fill="#ee0a0a"/><path d="M369.9,728.9L376.8,740.9L363.0,740.9Z" fill="#ee0a0a"/><path d="M383.1,720.9L390.0,732.9L376.2,732.9Z" fill="#ee0a0a"/><path d="M399.5,715.5L406.4,727.5L392.6,727.5Z" fill="#ee0a0a"/><path d="M408.6,707.7L415.5,719.7L401.7,719.7Z" fill="#ee0a0a"/><path d="M425.4,704.1L432.3,716.1L418.5,716.1Z" fill="#ee0a0a"/><path d="M437.1,701.2L444.0,713.2L430.2,713.2Z" fill="#ee0a0a"/><path d="M445.1,695.2L452.0,707.2L438.2,707.2Z" fill="#ee0a0a"/><path d="M453.6,693.5L460.5,705.5L446.7,705.5Z" fill="#ee0a0a"/><path d="M467.5,690.9L474.4,702.9L460.6,702.9Z" fill="#ee0a0a"/><path d="M482.4,685.7L489.3,697.7L475.5,697.7Z" fill="#ee0a0a"/><path d="M488.5,681.3L495.4,693.3L481.6,693.3Z" fill="#ee0a0a"/><path d="M503.5,679.0L510.4,691.0L496.6,691.0Z" fill="#ee0a0a"/><path d="M515.5,675.8L522.4,687.8L508.6,687.8Z" fill="#ee0a0a"/><path d="M532.7,666.4L539.6,678.4L525.8,678.4Z" fill="#ee0a0a"/><path d="M544.4,661.1L551.3,673.1L537.5,673.1Z" fill="#ee0a0a"/><path d="M554.9,658.0L561.8,670.0L548.0,670.0Z" fill="#ee0a0a"/><path d="M573.0,657.0L579.9,669.0L566.1,669.0Z" fill="#ee0a0a"/><path d="M597.4,655.0L604.3,667.0L590.5,667.0Z" fill="#ee0a0a"/><path d="M613.8,653.5L620.7,665.5L606.9,665.5Z" fill="#ee0a0a"/><path d="M631.2,652.5L638.1,664.5L624.3,664.5Z" fill="#ee0a0a"/><path d="M678.0,650.0L684.9,662.0L671.1,662.0Z" fill="#ee0a0a"/>
<polyline points="66.0,1093.4 76.9,996.5 88.9,936.6 106.0,904.5 117.8,874.2 127.2,853.1 140.4,832.0 162.0,818.1 166.4,809.6 178.7,798.1 183.4,788.5 190.1,777.8 199.7,772.6 212.0,766.4 221.6,762.0 231.5,755.6 240.5,747.4 251.9,740.4 265.0,736.1 272.0,730.8 279.1,724.7 298.3,721.2 303.6,715.9 312.3,714.2 321.1,708.9 335.1,704.5 344.0,702.0 353.1,699.9 365.4,698.9 373.3,695.9 382.9,695.9 407.4,695.0 413.6,692.4 424.1,688.9 438.1,687.2 448.6,685.9 456.5,685.3 470.1,682.0 483.3,678.5 501.5,675.3 509.5,673.5 525.2,674.0 539.5,670.5 562.2,667.9 591.0,665.5 605.6,664.6 624.8,661.9 638.5,660.4 678.0,658.0" fill="none" stroke="#0000e0" stroke-width="4" stroke-linejoin="miter" stroke-miterlimit="2"/><rect x="72.2" y="991.8" width="9.4" height="9.4" fill="#0000e0"/><rect x="84.2" y="931.9" width="9.4" height="9.4" fill="#0000e0"/><rect x="101.3" y="899.8" width="9.4" height="9.4" fill="#0000e0"/><rect x="113.1" y="869.5" width="9.4" height="9.4" fill="#0000e0"/><rect x="122.5" y="848.4" width="9.4" height="9.4" fill="#0000e0"/><rect x="135.7" y="827.3" width="9.4" height="9.4" fill="#0000e0"/><rect x="157.3" y="813.4" width="9.4" height="9.4" fill="#0000e0"/><rect x="161.7" y="804.9" width="9.4" height="9.4" fill="#0000e0"/><rect x="174.0" y="793.4" width="9.4" height="9.4" fill="#0000e0"/><rect x="178.7" y="783.8" width="9.4" height="9.4" fill="#0000e0"/><rect x="185.4" y="773.1" width="9.4" height="9.4" fill="#0000e0"/><rect x="195.0" y="767.9" width="9.4" height="9.4" fill="#0000e0"/><rect x="207.3" y="761.7" width="9.4" height="9.4" fill="#0000e0"/><rect x="216.9" y="757.3" width="9.4" height="9.4" fill="#0000e0"/><rect x="226.8" y="750.9" width="9.4" height="9.4" fill="#0000e0"/><rect x="235.8" y="742.7" width="9.4" height="9.4" fill="#0000e0"/><rect x="247.2" y="735.7" width="9.4" height="9.4" fill="#0000e0"/><rect x="260.3" y="731.4" width="9.4" height="9.4" fill="#0000e0"/><rect x="267.3" y="726.1" width="9.4" height="9.4" fill="#0000e0"/><rect x="274.4" y="720.0" width="9.4" height="9.4" fill="#0000e0"/><rect x="293.6" y="716.5" width="9.4" height="9.4" fill="#0000e0"/><rect x="298.9" y="711.2" width="9.4" height="9.4" fill="#0000e0"/><rect x="307.6" y="709.5" width="9.4" height="9.4" fill="#0000e0"/><rect x="316.4" y="704.2" width="9.4" height="9.4" fill="#0000e0"/><rect x="330.4" y="699.8" width="9.4" height="9.4" fill="#0000e0"/><rect x="339.3" y="697.3" width="9.4" height="9.4" fill="#0000e0"/><rect x="348.4" y="695.2" width="9.4" height="9.4" fill="#0000e0"/><rect x="360.7" y="694.2" width="9.4" height="9.4" fill="#0000e0"/><rect x="368.6" y="691.2" width="9.4" height="9.4" fill="#0000e0"/><rect x="378.2" y="691.2" width="9.4" height="9.4" fill="#0000e0"/><rect x="402.7" y="690.3" width="9.4" height="9.4" fill="#0000e0"/><rect x="408.9" y="687.7" width="9.4" height="9.4" fill="#0000e0"/><rect x="419.4" y="684.2" width="9.4" height="9.4" fill="#0000e0"/><rect x="433.4" y="682.5" width="9.4" height="9.4" fill="#0000e0"/><rect x="443.9" y="681.2" width="9.4" height="9.4" fill="#0000e0"/><rect x="451.8" y="680.6" width="9.4" height="9.4" fill="#0000e0"/><rect x="465.4" y="677.3" width="9.4" height="9.4" fill="#0000e0"/><rect x="478.6" y="673.8" width="9.4" height="9.4" fill="#0000e0"/><rect x="496.8" y="670.6" width="9.4" height="9.4" fill="#0000e0"/><rect x="504.8" y="668.8" width="9.4" height="9.4" fill="#0000e0"/><rect x="520.5" y="669.3" width="9.4" height="9.4" fill="#0000e0"/><rect x="534.8" y="665.8" width="9.4" height="9.4" fill="#0000e0"/><rect x="557.5" y="663.2" width="9.4" height="9.4" fill="#0000e0"/><rect x="586.3" y="660.8" width="9.4" height="9.4" fill="#0000e0"/><rect x="600.9" y="659.9" width="9.4" height="9.4" fill="#0000e0"/><rect x="620.1" y="657.2" width="9.4" height="9.4" fill="#0000e0"/><rect x="633.8" y="655.7" width="9.4" height="9.4" fill="#0000e0"/><rect x="673.3" y="653.3" width="9.4" height="9.4" fill="#0000e0"/>
<line x1="65.3" y1="1099.7" x2="677.9" y2="658.1" stroke="#e84a40" stroke-width="1.3" stroke-dasharray="12 11.6" stroke-dashoffset="-1.8"/>
<text x="372.6" y="1150.1" text-anchor="middle" class="lb">False positive rate</text>
<text transform="translate(17.3,878.0) rotate(-90)" text-anchor="middle" class="lb">True positive rate</text>
<text x="340.5" y="630.9" class="tt">(b) P<tspan class="sub" dx="-1" dy="12.9">c</tspan></text>
<rect x="432.7" y="984.2" width="235.4" height="105.6" fill="#fff" stroke="#2e2e2e" stroke-width="1.15"/>
<line x1="443.5" y1="1004.0" x2="497" y2="1004.0" stroke="#0af20a" stroke-width="4"/>
<circle cx="470.3" cy="1004.0" r="5" fill="#0af20a"/>
<text x="502.50" y="1003.10" class="lg">F</text>
<path transform="translate(514.72,1013.00) scale(16,-16)" d="M0.371,0L0.276,0L0.276,0.49L0.095,0.49L0.095,0.56C0.19,0.563 0.262,0.605 0.29,0.688L0.371,0.688Z"/>
<text x="522.82" y="1003.10" class="lg"> (AUC = 0.765)</text>
<line x1="443.5" y1="1037.0" x2="497" y2="1037.0" stroke="#ee0a0a" stroke-width="4"/>
<path d="M470.3,1029.0L477.2,1041.0L463.4,1041.0Z" fill="#ee0a0a"/>
<text x="502.50" y="1036.10" class="lg">F</text>
<text x="514.72" y="1046.00" class="lsub">2</text>
<text x="522.82" y="1036.10" class="lg"> (AUC = 0.769)</text>
<line x1="443.5" y1="1070.0" x2="497" y2="1070.0" stroke="#0000e0" stroke-width="4"/>
<rect x="465.6" y="1065.3" width="9.4" height="9.4" fill="#0000e0"/>
<text x="502.50" y="1069.10" class="lg">F</text>
<text x="514.72" y="1079.00" class="lsub">3</text>
<text x="522.82" y="1069.10" class="lg"> (AUC = 0.830)</text>
</svg>
</body></html>
